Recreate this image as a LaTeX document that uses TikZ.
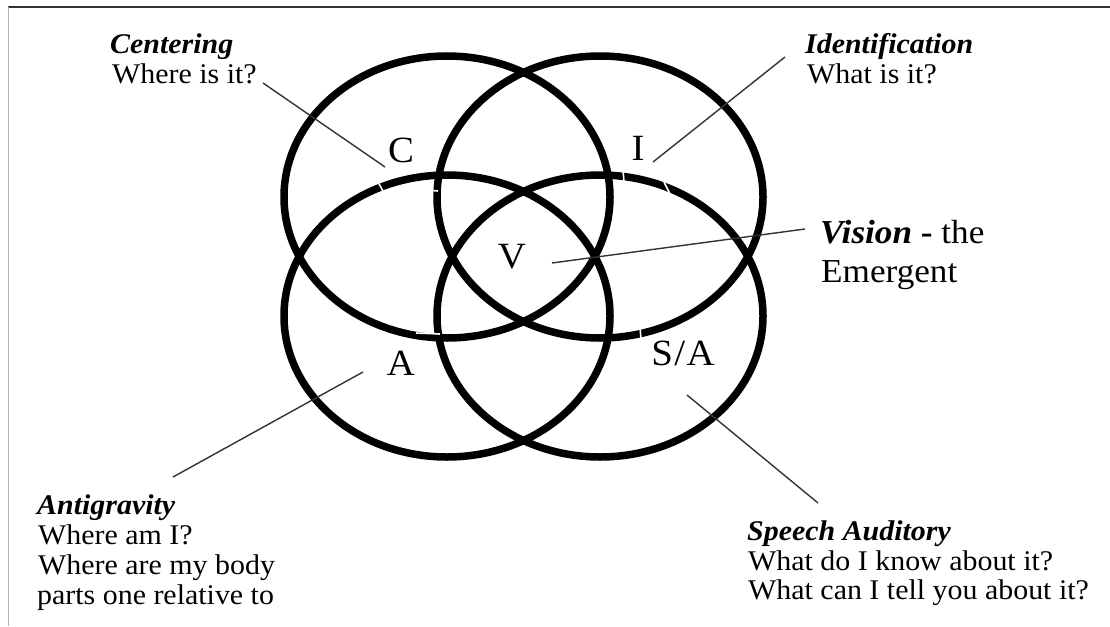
\documentclass[tikz,border=0pt]{standalone}
\usepackage{fontspec}
\setmainfont[FakeStretch=1.05]{Liberation Serif}
\begin{document}
\begin{tikzpicture}[x=1pt,y=-1pt,
  ring/.style={line width=7.5pt, draw=black},
  gap/.style={line width=1.6pt, draw=white},
  lead/.style={line width=1.4pt, draw=black!80},
  txt/.style={anchor=base west, inner sep=0pt, font=\fontsize{28.5}{30}\selectfont, text=black},
  bigtxt/.style={anchor=base west, inner sep=0pt, font=\fontsize{33.5}{39}\selectfont, text=black},
  letter/.style={anchor=base, inner sep=0pt, font=\fontsize{37}{40}\selectfont, text=black}]
\useasboundingbox (0,0) rectangle (1110,626);
\fill[white] (0,0) rectangle (1110,626);
% frame
\draw[line width=2pt, black!80] (8,7) -- (1110,7);
\draw[line width=1pt, black!30] (8,7) -- (8,626);
% ellipses
\draw[ring] (447,197) ellipse [x radius=163, y radius=141];
\draw[ring] (600,197) ellipse [x radius=163, y radius=141];
\draw[ring] (447,316) ellipse [x radius=163, y radius=141];
\draw[ring] (600,316) ellipse [x radius=163, y radius=141];
% small white breaks in the rings
\draw[gap] (378,182) -- (384,193);
\draw[gap] (426,190) -- (438,191);
\draw[gap] (623,170) -- (624,182);
\draw[gap] (664,182) -- (670,194);
\draw[gap] (416,333) -- (440,334);
\draw[gap] (640,327) -- (641,339);
% letters
\node[letter] (lC) at (401,162) {C};
\node[letter] (lI) at (638,160) {I};
\node[letter] (lV) at (512,268) {V};
\node[letter] (lA) at (401,375) {A};
\node[letter] (lS) at (683,365) {S\kern1.5pt/\kern1.5pt A};
% texts
\node[txt] (cen1) at (110,53) {\textbf{\textit{Centering}}};
\node[txt] (cen2) at (112,83) {Where is it?};
\node[txt] (id1) at (805,53) {\textbf{\textit{Identification}}};
\node[txt] (id2) at (807,83) {What is it?};
\node[bigtxt] (vi1) at (820,243) {\textbf{\textit{Vision}} \textbf{-} the};
\node[bigtxt] (vi2) at (821,282) {Emergent};
\node[txt] (an1) at (37,514) {\textbf{\textit{Antigravity}}};
\node[txt] (an2) at (38,544) {Where am I?};
\node[txt] (an3) at (38,574) {Where are my body};
\node[txt] (an4) at (37,604) {parts one relative to};
\node[txt] (sp1) at (747,540) {\textbf{\textit{Speech Auditory}}};
\node[txt] (sp2) at (748,570) {What do I know about it?};
\node[txt] (sp3) at (748,599) {What can I tell you about it?};
% connector ends
\coordinate (cenA) at (263,83);  \coordinate (cenB) at (385,167);
\coordinate (idA) at (785,57);   \coordinate (idB) at (653,162);
\coordinate (viA) at (805,229);  \coordinate (viB) at (552,263);
\coordinate (anA) at (173,477);  \coordinate (anB) at (363,372);
\coordinate (spA) at (818,503);  \coordinate (spB) at (687,395);
\draw[lead] (cenA) -- (cenB);
\draw[lead] (idA) -- (idB);
\draw[lead] (viA) -- (viB);
\draw[lead] (anA) -- (anB);
\draw[lead] (spA) -- (spB);
\end{tikzpicture}
\end{document}
